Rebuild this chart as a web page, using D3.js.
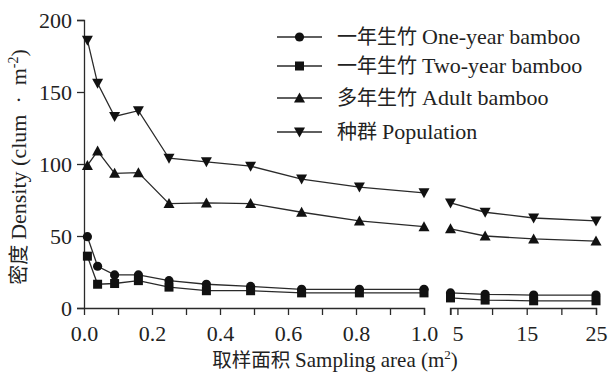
<!DOCTYPE html>
<html>
<head>
<meta charset="utf-8">
<script src="https://cdn.jsdelivr.net/npm/d3@7"></script>
<style>
  body { margin: 0; background: #fff; }
  svg text { font-family: "Liberation Serif", "Times New Roman", "DejaVu Serif", "Noto Sans CJK SC", serif; fill: #222; }
</style>
</head>
<body>
<svg id="chart" width="608" height="378"></svg>
<script>
// sampling areas, split in two segments (broken axis)
var areas1 = [0.01, 0.04, 0.09, 0.16, 0.25, 0.36, 0.49, 0.64, 0.81, 1.0];
var areas2 = [4, 9, 16, 25];

// densities (first 10 = segment 1, last 4 = segment 2)
var oneYear    = [49.5, 29, 23, 23, 19, 16.5, 15, 13, 13, 13, 10.5, 9.5, 9, 9];
var twoYear    = [36, 16.5, 17, 19, 14.5, 12, 12, 10.5, 10.5, 10.5, 7, 5.5, 5, 5];
var adult      = [99, 109, 93.5, 94, 72.5, 73, 72.5, 66.5, 60.5, 56.5, 55, 50, 48, 46.5];
var population = [186, 156, 133, 137, 104, 101.5, 98.5, 89.5, 84, 80, 73, 66.5, 62.5, 60.5];

var seriesCn = ["一年生竹", "一年生竹", "多年生竹", "种群"];
var seriesEn = ["One-year bamboo", "Two-year bamboo", "Adult bamboo", "Population"];
var seriesSymbols = ["circle", "square", "triangle", "down"];
var seriesValues = [oneYear, twoYear, adult, population];

var yTicks = [0, 50, 100, 150, 200];
var x1Ticks = [0, 0.1, 0.2, 0.3, 0.4, 0.5, 0.6, 0.7, 0.8, 0.9, 1.0];
var x1Labels = [0, 0.2, 0.4, 0.6, 0.8, 1.0];
var x2Ticks = [4, 5, 10, 15, 20, 25];
var x2Labels = [5, 15, 25];

var svg = d3.select("#chart");
var stroke = "#2a2a2a";

var y = d3.scaleLinear().domain([0, 200]).range([308, 20]);
var x1 = d3.scaleLinear().domain([0, 1]).range([84, 424]);
var x2 = d3.scaleLinear().domain([4, 25]).range([450.5, 596]);

// y axis
var gy = svg.append("g").attr("transform", "translate(84,0)")
  .call(d3.axisLeft(y).tickValues(yTicks).tickSize(7).tickPadding(5));
// x axis segment 1
var gx1 = svg.append("g").attr("transform", "translate(0,308)")
  .call(d3.axisBottom(x1).tickValues(x1Ticks).tickSize(7).tickPadding(10)
    .tickFormat(function(d){ return x1Labels.some(function(v){ return Math.abs(v-d) < 1e-9; }) ? d3.format(".1f")(d) : ""; }));
// x axis segment 2
var gx2 = svg.append("g").attr("transform", "translate(0,308)")
  .call(d3.axisBottom(x2).tickValues(x2Ticks).tickSize(7).tickPadding(10)
    .tickFormat(function(d){ return x2Labels.indexOf(d) >= 0 ? d : ""; }));

[gy, gx1, gx2].forEach(function(g){
  g.attr("font-family", null);
  g.selectAll(".domain").attr("stroke", stroke).attr("stroke-width", 1.3);
  g.selectAll(".tick line").attr("stroke", stroke).attr("stroke-width", 1.3);
  g.selectAll(".tick text").attr("font-size", 22).attr("fill", "#222");
});
// x axis line reaches to y-axis tick
gx1.select(".domain").attr("d", "M77,0.5H424.5V7");
gx2.select(".domain").attr("d", "M450.5,7V0.5H596.5V7");
gy.select(".domain").attr("d", "M-7,20.5H0.5V308");

// symbols
function drawSymbol(g, type, cx, cy) {
  if (type === "circle") {
    g.append("circle").attr("cx", cx).attr("cy", cy).attr("r", 4.6).attr("fill", "#111");
  } else if (type === "square") {
    g.append("rect").attr("x", cx - 4.5).attr("y", cy - 4.5).attr("width", 9).attr("height", 9).attr("fill", "#111");
  } else if (type === "triangle") {
    g.append("path").attr("d", "M" + cx + "," + (cy - 5.5) + "L" + (cx + 5.5) + "," + (cy + 4.5) + "L" + (cx - 5.5) + "," + (cy + 4.5) + "Z").attr("fill", "#111");
  } else {
    g.append("path").attr("d", "M" + cx + "," + (cy + 5.5) + "L" + (cx + 5.5) + "," + (cy - 4.5) + "L" + (cx - 5.5) + "," + (cy - 4.5) + "Z").attr("fill", "#111");
  }
}

var line = d3.line().x(function(d){ return d[0]; }).y(function(d){ return d[1]; });
var plot = svg.append("g");

seriesValues.forEach(function(vals, si){
  var seg1 = areas1.map(function(a, i){ return [x1(a), y(vals[i])]; });
  var seg2 = areas2.map(function(a, i){ return [x2(a), y(vals[areas1.length + i])]; });
  [seg1, seg2].forEach(function(seg){
    plot.append("path").attr("d", line(seg)).attr("fill", "none")
      .attr("stroke", stroke).attr("stroke-width", 1.3);
    seg.forEach(function(p){ drawSymbol(plot, seriesSymbols[si], p[0], p[1]); });
  });
});

// legend
var legendY = [37, 66, 98, 132];
var legend = svg.append("g");
seriesCn.forEach(function(cn, i){
  var ly = legendY[i];
  legend.append("line").attr("x1", 277).attr("x2", 322).attr("y1", ly).attr("y2", ly)
    .attr("stroke", stroke).attr("stroke-width", 1.3);
  drawSymbol(legend, seriesSymbols[i], 299.5, ly);
  var t = legend.append("text").attr("x", 337).attr("y", ly + 7).attr("font-size", 22);
  t.append("tspan").attr("font-size", 20).text(cn + " ");
  t.append("tspan").text(seriesEn[i]);
});

// axis titles
var xt = svg.append("text").attr("x", 335).attr("y", 367).attr("text-anchor", "middle").attr("font-size", 21);
xt.append("tspan").attr("font-size", 19.5).text("取样面积 ");
xt.append("tspan").text("Sampling area (m");
xt.append("tspan").attr("font-size", 13).attr("dy", -8).text("2");
xt.append("tspan").attr("dy", 8).text(")");

var yt = svg.append("text").attr("transform", "translate(26,167) rotate(-90)")
  .attr("text-anchor", "middle").attr("font-size", 22);
yt.append("tspan").attr("font-size", 20).text("密度 ");
yt.append("tspan").text("Density (clum \u00a0·\u00a0 m");
yt.append("tspan").attr("font-size", 14).attr("dy", -8).text("-2");
yt.append("tspan").attr("dy", 8).text(")");
</script>
</body>
</html>
